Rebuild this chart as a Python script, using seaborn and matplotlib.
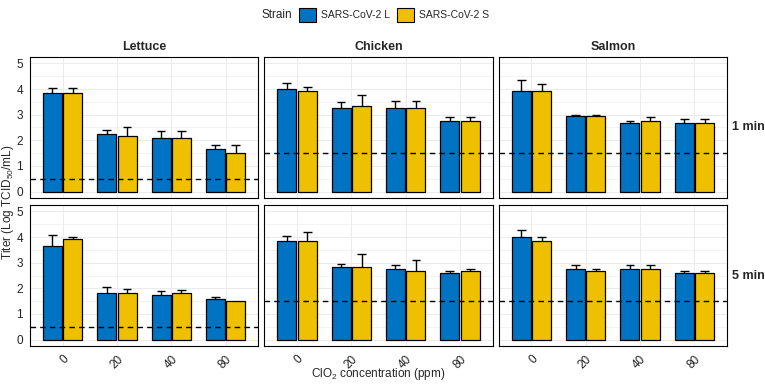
import numpy as np
import pandas as pd
import seaborn as sns
import matplotlib.pyplot as plt
from matplotlib.patches import Patch

# Datos
conc = ["0", "20", "40", "80"]
foods = ["Lettuce", "Chicken", "Salmon"]
times = ["1 min", "5 min"]
strains = ["SARS-CoV-2 L", "SARS-CoV-2 S"]
lod = {"Lettuce": 0.5, "Chicken": 1.5, "Salmon": 1.5}

# medias y desviaciones (solo se dibuja la parte superior)
lettuce_1_L = [3.85, 2.25, 2.10, 1.68]
lettuce_1_L_sd = [0.20, 0.15, 0.28, 0.15]
lettuce_1_S = [3.85, 2.17, 2.10, 1.52]
lettuce_1_S_sd = [0.20, 0.33, 0.28, 0.28]

chicken_1_L = [4.00, 3.25, 3.25, 2.76]
chicken_1_L_sd = [0.25, 0.25, 0.29, 0.14]
chicken_1_S = [3.92, 3.32, 3.25, 2.76]
chicken_1_S_sd = [0.16, 0.43, 0.29, 0.14]

salmon_1_L = [3.92, 2.94, 2.69, 2.68]
salmon_1_L_sd = [0.42, 0.06, 0.08, 0.15]
salmon_1_S = [3.92, 2.94, 2.76, 2.68]
salmon_1_S_sd = [0.29, 0.06, 0.14, 0.15]

lettuce_5_L = [3.66, 1.83, 1.75, 1.57]
lettuce_5_L_sd = [0.44, 0.22, 0.13, 0.09]
lettuce_5_S = [3.92, 1.83, 1.83, 1.50]
lettuce_5_S_sd = [0.08, 0.15, 0.09, 0.0]

chicken_5_L = [3.84, 2.84, 2.76, 2.59]
chicken_5_L_sd = [0.21, 0.09, 0.14, 0.08]
chicken_5_S = [3.84, 2.84, 2.68, 2.68]
chicken_5_S_sd = [0.35, 0.51, 0.41, 0.08]

salmon_5_L = [4.00, 2.76, 2.76, 2.59]
salmon_5_L_sd = [0.28, 0.14, 0.14, 0.08]
salmon_5_S = [3.84, 2.68, 2.76, 2.59]
salmon_5_S_sd = [0.16, 0.06, 0.14, 0.08]

series = {
    ("Lettuce", "1 min"): (lettuce_1_L, lettuce_1_L_sd, lettuce_1_S, lettuce_1_S_sd),
    ("Chicken", "1 min"): (chicken_1_L, chicken_1_L_sd, chicken_1_S, chicken_1_S_sd),
    ("Salmon", "1 min"): (salmon_1_L, salmon_1_L_sd, salmon_1_S, salmon_1_S_sd),
    ("Lettuce", "5 min"): (lettuce_5_L, lettuce_5_L_sd, lettuce_5_S, lettuce_5_S_sd),
    ("Chicken", "5 min"): (chicken_5_L, chicken_5_L_sd, chicken_5_S, chicken_5_S_sd),
    ("Salmon", "5 min"): (salmon_5_L, salmon_5_L_sd, salmon_5_S, salmon_5_S_sd),
}

rows = []
for (food, time), (mL, sL, mS, sS) in series.items():
    for i, c in enumerate(conc):
        rows.append([food, time, c, strains[0], mL[i], sL[i]])
        rows.append([food, time, c, strains[1], mS[i], sS[i]])
df = pd.DataFrame(rows, columns=["food", "time", "conc", "strain", "titer", "sd"])

colors = ["#0073C2", "#EFC000"]

sns.set_theme(style="white")
plt.rcParams["font.family"] = ["Liberation Sans", "DejaVu Sans"]
plt.rcParams["mathtext.default"] = "regular"

fig, axes = plt.subplots(2, 3, figsize=(7.65, 3.84), dpi=100, sharex=True, sharey=True)
fig.subplots_adjust(left=30/765, right=727/765, top=1-57/384, bottom=1-346/384,
                    wspace=0.027, hspace=0.05)

for r, time in enumerate(times):
    for c, food in enumerate(foods):
        ax = axes[r, c]
        sub = df[(df.food == food) & (df.time == time)]
        sns.barplot(data=sub, x="conc", y="titer", hue="strain", order=conc,
                    hue_order=strains, palette=colors, saturation=1, width=0.75,
                    gap=0.06, errorbar=None, edgecolor="black", linewidth=0.9,
                    legend=False, ax=ax, zorder=2)
        # barras de error (solo hacia arriba)
        for p in ax.patches:
            xc = p.get_x() + p.get_width() / 2
            i = int(round(xc))
            h = 0 if xc < i else 1
            row = sub[(sub.conc == conc[i]) & (sub.strain == strains[h])].iloc[0]
            top = row.titer
            if row.sd > 0:
                ax.vlines(xc, top, top + row.sd, color="black", lw=1, zorder=3)
                ax.hlines(top + row.sd, xc - 0.08, xc + 0.08, color="black", lw=1, zorder=3)
        ax.axhline(lod[food], color="black", ls=(0, (4, 3)), lw=1, zorder=4)

        ax.set_ylim(-0.25, 5.25)
        ax.set_xlim(-0.6, 3.6)
        ax.set_yticks([0, 1, 2, 3, 4, 5])
        ax.set_yticks(np.arange(0.5, 5, 1), minor=True)
        ax.grid(which="major", color="#EBEBEB", lw=0.7)
        ax.grid(which="minor", axis="y", color="#EBEBEB", lw=0.4)
        ax.set_axisbelow(True)
        for s in ax.spines.values():
            s.set_color("black")
            s.set_linewidth(0.8)
        ax.set_xlabel("")
        ax.set_ylabel("")
        ax.tick_params(axis="both", which="major", length=3, width=0.6,
                       color="#333333", labelsize=8.5, labelcolor="#222222", pad=2)
        ax.tick_params(axis="y", which="minor", length=0)
        if c > 0:
            ax.tick_params(axis="y", left=False)
        if r == 0:
            ax.tick_params(axis="x", bottom=False)
            ax.set_title(food, fontweight="bold", fontsize=9, pad=5)
        else:
            plt.setp(ax.get_xticklabels(), rotation=45, ha="right", rotation_mode="anchor")
        if c == 2:
            ax.text(1.022, 0.5, time, transform=ax.transAxes, ha="left", va="center",
                    fontweight="bold", fontsize=9)

fig.text(8/765, 1-202/384, "Titer (Log TCID$_{50}$/mL)", rotation=90,
         ha="center", va="center", fontsize=8.5)
fig.text(378/765, 1-374/384, "ClO$_2$ concentration (ppm)", ha="center",
         va="center", fontsize=8.5)

# Leyenda
fig.text(262/765, 1-15/384, "Strain", ha="left", va="center", fontsize=8.5)
handles = [Patch(facecolor=colors[k], edgecolor="black", linewidth=0.8, label=strains[k])
           for k in range(2)]
fig.legend(handles=handles, loc="center left", bbox_to_anchor=(299/765, 1-15/384),
           ncol=2, frameon=False, fontsize=7.5, handlelength=1.6, handleheight=1.6,
           columnspacing=0.7, handletextpad=0.5, borderaxespad=0, borderpad=0)

fig.savefig("out.png", dpi=100)
